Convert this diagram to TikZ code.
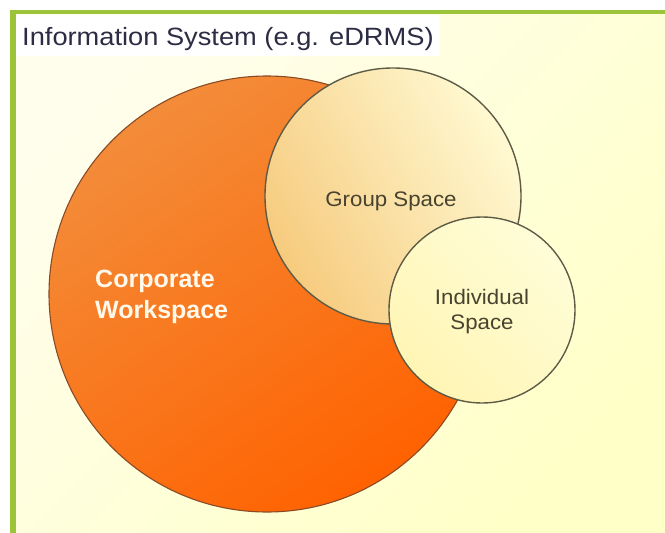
\documentclass[tikz,border=0pt]{standalone}
\usepackage{fontspec}
\setmainfont{Liberation Sans}
\definecolor{framegreen}{HTML}{9BC43A}
\definecolor{paperlight}{HTML}{FFFEEC}
\definecolor{paperdeep}{HTML}{FFFFC8}
\definecolor{corplight}{HTML}{F38C3A}
\definecolor{corpdeep}{HTML}{FF6200}
\definecolor{corpedge}{HTML}{8A4A25}
\definecolor{grouplight}{HTML}{FFF9D2}
\definecolor{groupdeep}{HTML}{F6CB7E}
\definecolor{indivlight}{HTML}{FFFDD8}
\definecolor{indivdeep}{HTML}{FFF5B4}
\definecolor{ringedge}{HTML}{5E5C46}
\definecolor{titleink}{HTML}{2C2C44}
\definecolor{labelink}{HTML}{47432F}
\definecolor{corpink}{HTML}{FFF9EC}
\tikzset{
  ring/.style={circle, inner sep=0pt, line width=1.4pt, draw=ringedge},
  corptext/.style={font=\fontsize{25}{30}\selectfont\bfseries, text=corpink, anchor=base west, inner sep=0pt},
  innertext/.style={font=\fontsize{21}{25}\selectfont, text=labelink, anchor=base, inner sep=0pt, xscale=1.06},
}
\begin{document}
\begin{tikzpicture}[x=1pt,y=-1pt]
\useasboundingbox (0,0) rectangle (665,533);
\fill[white] (0,0) rectangle (665,533);
% page frame: green bars along top and left
\fill[framegreen] (10,9.5) rectangle (665,533);
\shade[top color=paperlight, bottom color=paperdeep, shading angle=45] (16,14.5) rectangle (665,533);
% title strip
\fill[white] (16,14.5) rectangle (440,56);
\node[font=\fontsize{25}{30}\selectfont, text=titleink, anchor=base west, inner sep=0pt, xscale=1.09] (title) at (22,45) {Information System (e.g. eDRMS)};
% nested workspaces
\node[ring, minimum size=436pt, draw=corpedge, line width=1.1pt,
      top color=corplight, bottom color=corpdeep, shading angle=35] (corp) at (267,294) {};
\node[ring, minimum size=256pt,
      top color=grouplight, bottom color=groupdeep, shading angle=-60] (group) at (393,196) {};
\node[ring, minimum size=186pt,
      top color=indivlight, bottom color=indivdeep, shading angle=-45] (indiv) at (482,310) {};
% labels
\node[corptext] (corpA) at (95,287) {Corporate};
\node[corptext] (corpB) at (95,318) {Workspace};
\node[innertext] (groupL) at (391,206) {Group Space};
\node[innertext] (indivA) at (482,304) {Individual};
\node[innertext] (indivB) at (482,329) {Space};
\end{tikzpicture}
\end{document}
